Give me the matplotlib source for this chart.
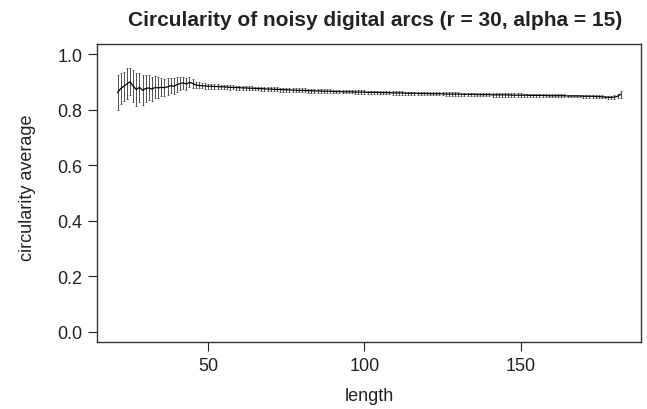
import numpy as np
import matplotlib
matplotlib.use('Agg')
import matplotlib.pyplot as plt

plt.rcParams['font.family'] = ['Liberation Sans', 'DejaVu Sans']

# arc lengths (one point per length)
length = np.arange(21, 183)

# mean circularity, noisy start (21..46) then smooth part (47..182)
circ_start = [0.862, 0.876, 0.884, 0.893, 0.900, 0.884, 0.872, 0.880, 0.870, 0.876,
              0.878, 0.874, 0.880, 0.878, 0.880, 0.879, 0.882, 0.886, 0.884, 0.890,
              0.894, 0.896, 0.892, 0.898, 0.894, 0.889]
circ_rest = [0.887, 0.886, 0.885, 0.884, 0.884, 0.883, 0.883, 0.882, 0.882, 0.881,
             0.880, 0.880, 0.879, 0.879,
             0.878, 0.878, 0.877, 0.877, 0.876, 0.876, 0.875, 0.875, 0.874, 0.874,
             0.873, 0.873, 0.872, 0.872, 0.871, 0.871, 0.870, 0.870, 0.869, 0.869,
             0.869, 0.868, 0.868, 0.867, 0.867, 0.867, 0.866, 0.866, 0.866, 0.865,
             0.865, 0.865, 0.864, 0.864, 0.864, 0.864, 0.863, 0.863, 0.863, 0.863,
             0.862, 0.862, 0.862, 0.862, 0.861, 0.861, 0.861, 0.861, 0.860, 0.860,
             0.860, 0.860, 0.859, 0.859, 0.859, 0.859, 0.858, 0.858, 0.858, 0.858,
             0.857, 0.857, 0.857, 0.857, 0.857, 0.856, 0.856, 0.856, 0.856, 0.856,
             0.855, 0.855, 0.855, 0.855, 0.855, 0.854, 0.854, 0.854, 0.854, 0.854,
             0.853, 0.853, 0.853, 0.853, 0.853, 0.853, 0.852, 0.852, 0.852, 0.852,
             0.852, 0.852, 0.851, 0.851, 0.851, 0.851, 0.851, 0.851, 0.850, 0.850,
             0.850, 0.850, 0.850, 0.850, 0.849, 0.849, 0.849, 0.849, 0.849, 0.848,
             0.848, 0.848, 0.848, 0.847, 0.847, 0.846, 0.845, 0.844, 0.844, 0.845,
             0.848, 0.855]
circ = np.array(circ_start + circ_rest)

# half-width of error bars
err_start = [0.062, 0.055, 0.052, 0.055, 0.048, 0.058, 0.060, 0.052, 0.055, 0.050,
             0.045, 0.042, 0.040, 0.038, 0.032, 0.030, 0.030, 0.028, 0.028, 0.026,
             0.024, 0.022, 0.020, 0.018, 0.015, 0.012]
err_rest = ([0.011, 0.010, 0.010, 0.009, 0.009, 0.009, 0.008, 0.008, 0.008, 0.008,
             0.008, 0.007, 0.007, 0.007]
            + [0.007] * 30 + [0.006] * 60 + [0.005] * 29 + [0.006, 0.007, 0.013])
err = np.array(err_start + err_rest)

W, H = 647, 410
fig = plt.figure(figsize=(W / 100, H / 100), dpi=100)
ax = fig.add_axes([97 / W, 1 - 343 / H, (641 - 97) / W, (343 - 45) / H])

dark = '#222222'
ax.errorbar(length, circ, yerr=err, color='black', lw=0.9, ecolor='#333333',
            elinewidth=0.6, capsize=0.8, capthick=0.5)

ax.set_xlim(14.4, 188.5)
ax.set_ylim(-0.036, 1.036)
ax.set_xticks([50, 100, 150])
ax.set_yticks([0.0, 0.2, 0.4, 0.6, 0.8, 1.0])
ax.set_yticklabels(['0.0', '0.2', '0.4', '0.6', '0.8', '1.0'])
ax.tick_params(labelsize=13, length=6.5, width=0.8, pad=4, colors=dark)
for s in ax.spines.values():
    s.set_color('#333333')
    s.set_linewidth(1.0)

fig.text(375 / W, 1 - 20 / H, 'Circularity of noisy digital arcs (r = 30, alpha = 15)',
         ha='center', va='center', fontsize=15, fontweight='bold', color=dark)
fig.text(369 / W, 1 - 397 / H, 'length', ha='center', va='center', fontsize=13, color=dark)
fig.text(27 / W, 1 - 188 / H, 'circularity average', ha='center', va='center',
         rotation=90, fontsize=13, color=dark)

fig.savefig('out.png', dpi=100)
